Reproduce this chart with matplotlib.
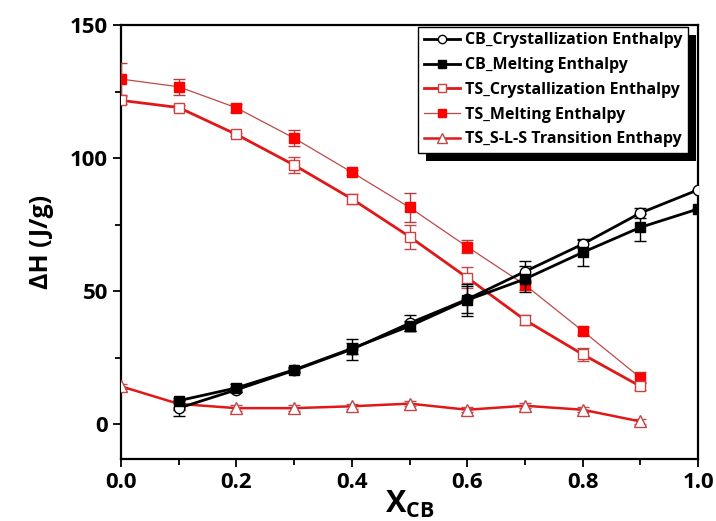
import matplotlib
matplotlib.use("Agg")
import matplotlib.pyplot as plt
from matplotlib.patches import Rectangle
from matplotlib.ticker import MultipleLocator
import numpy as np

plt.rcParams['font.family'] = ['Open Sans', 'DejaVu Sans']
plt.rcParams['font.weight'] = 'bold'
plt.rcParams['mathtext.fontset'] = 'custom'
plt.rcParams['mathtext.rm'] = 'Open Sans:bold'
plt.rcParams['mathtext.it'] = 'Open Sans:bold'
plt.rcParams['mathtext.bf'] = 'Open Sans:bold'

# data
x_cb = [0.1, 0.2, 0.3, 0.4, 0.5, 0.6, 0.7, 0.8, 0.9, 1.0]
cb_cryst = [6.1, 13.0, 20.3, 28.2, 38.0, 47.0, 57.4, 67.7, 79.4, 88.1]
cb_cryst_err = [3, 1, 1, 4, 3, 5, 4, 1.5, 2, 0]
cb_melt = [8.9, 13.7, 20.5, 28.5, 36.9, 46.7, 54.6, 64.6, 74.0, 80.9]
cb_melt_err = [1, 1.5, 1, 2, 2, 6, 5, 5, 5, 0]

x_ts = [0.0, 0.1, 0.2, 0.3, 0.4, 0.5, 0.6, 0.7, 0.8, 0.9]
ts_cryst = [121.7, 119.0, 108.9, 97.4, 84.7, 70.5, 55.1, 39.2, 26.3, 14.3]
ts_cryst_err = [1.5, 1, 0.5, 3, 2, 4.5, 4, 2, 2.5, 1.5]
ts_melt = [129.7, 126.8, 118.9, 107.5, 94.7, 81.5, 66.7, 52.4, 35.1, 17.5]
ts_melt_err = [6, 3, 1.5, 3, 1, 5.5, 2.5, 2, 1.5, 2]
ts_sls = [14.3, 7.7, 6.1, 6.1, 6.8, 7.8, 5.5, 7.0, 5.5, 1.1]
ts_sls_err = [1, 1, 1, 1, 1, 1, 1, 1, 1, 1]

fig = plt.figure(figsize=(7.16, 5.21), dpi=100)
ax = fig.add_axes([0.169, 0.119, 0.806, 0.833])

ax.errorbar(x_ts, ts_melt, yerr=ts_melt_err, color='#c04848', lw=0.9,
            marker='s', ms=7.5, mfc='#ff0000', mec='#ff0000', ecolor='#b04040',
            elinewidth=1, capsize=4, label='TS_Melting Enthalpy', zorder=3)
ax.errorbar(x_ts, ts_cryst, yerr=ts_cryst_err, color='#e01818', lw=2,
            marker='s', ms=7.5, mfc='white', mec='#d04040', ecolor='#c04848',
            elinewidth=1, capsize=4, label='TS_Crystallization Enthalpy', zorder=3)
ax.errorbar(x_ts, ts_sls, yerr=ts_sls_err, color='#e01818', lw=1.8,
            marker='^', ms=8.5, mfc='white', mec='#c04848', ecolor='#c04848',
            elinewidth=1, capsize=4, label='TS_S-L-S Transition Enthapy', zorder=3)
ax.errorbar(x_cb, cb_cryst, yerr=cb_cryst_err, color='black', lw=2,
            marker='o', ms=7.5, mfc='white', mec='black', ecolor='black',
            elinewidth=1, capsize=4, label='CB_Crystallization Enthalpy', zorder=4)
ax.errorbar(x_cb, cb_melt, yerr=cb_melt_err, color='black', lw=2,
            marker='s', ms=7.5, mfc='black', mec='black', ecolor='black',
            elinewidth=1, capsize=4, label='CB_Melting Enthalpy', zorder=4)

ax.set_xlim(0, 1.0)
ax.set_ylim(-13, 150)
ax.xaxis.set_major_locator(MultipleLocator(0.2))
ax.xaxis.set_minor_locator(MultipleLocator(0.1))
ax.yaxis.set_major_locator(MultipleLocator(50))
ax.yaxis.set_minor_locator(MultipleLocator(25))
ax.tick_params(which='both', direction='out', width=1.3, labelsize=16)
ax.tick_params(which='major', length=6)
ax.tick_params(which='minor', length=4)
for s in ax.spines.values():
    s.set_linewidth(1.6)

ax.set_ylabel('ΔH (J/g)', fontsize=18, fontweight='bold', labelpad=11)
ax.set_xlabel(r'$\mathrm{X}_{\mathrm{CB}}$', fontsize=22, labelpad=-3)

handles, labels = ax.get_legend_handles_labels()
order = [3, 4, 1, 0, 2]
leg = ax.legend([handles[i][0] for i in order], [labels[i] for i in order],
                loc='upper right', bbox_to_anchor=(0.983, 0.996),
                fancybox=False, edgecolor='black', framealpha=1,
                prop={'size': 11.5, 'weight': 'bold'}, handlelength=2.3,
                handletextpad=0.3, borderpad=0.35, labelspacing=0.55,
                borderaxespad=0, markerscale=0.8)
leg.get_frame().set_linewidth(1.0)
leg.set_zorder(10)

fig.canvas.draw()
bb = leg.get_window_extent()
inv = ax.transAxes.inverted()
(x0, y0) = inv.transform((bb.x0 + 8, bb.y0 - 8))
(x1, y1) = inv.transform((bb.x1 + 8, bb.y1 - 8))
ax.add_patch(Rectangle((x0, y0), x1 - x0, y1 - y0, transform=ax.transAxes,
                       facecolor='black', edgecolor='none', zorder=9,
                       clip_on=False))

fig.savefig('out.png', dpi=100)
